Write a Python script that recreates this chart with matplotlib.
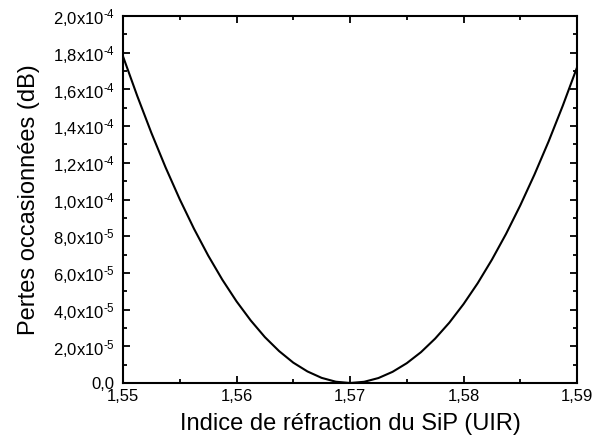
import matplotlib
matplotlib.use("Agg")
import matplotlib.pyplot as plt
from matplotlib.ticker import MultipleLocator, FixedLocator
import numpy as np

plt.rcParams['font.family'] = ['Liberation Sans', 'DejaVu Sans']
plt.rcParams['mathtext.fontset'] = 'custom'
plt.rcParams['mathtext.rm'] = 'Liberation Sans'
plt.rcParams['mathtext.it'] = 'Liberation Sans'

# refractive index of SiP and induced losses (dB)
indice = [1.55, 1.55125, 1.5525, 1.55375, 1.555, 1.55625, 1.5575, 1.55875,
          1.56, 1.56125, 1.5625, 1.56375, 1.565, 1.56625, 1.5675, 1.56875,
          1.57, 1.57125, 1.5725, 1.57375, 1.575, 1.57625, 1.5775, 1.57875,
          1.58, 1.58125, 1.5825, 1.58375, 1.585, 1.58625, 1.5875, 1.58875, 1.59]
pertes = [1.780e-4, 1.565e-4, 1.363e-4, 1.175e-4, 1.001e-4, 8.41e-5, 6.95e-5, 5.63e-5,
          4.45e-5, 3.41e-5, 2.50e-5, 1.74e-5, 1.11e-5, 6.3e-6, 2.8e-6, 7.0e-7,
          0.0, 6.7e-7, 2.7e-6, 6.1e-6, 1.08e-5, 1.68e-5, 2.42e-5, 3.29e-5,
          4.30e-5, 5.44e-5, 6.72e-5, 8.13e-5, 9.68e-5, 1.136e-4, 1.317e-4, 1.512e-4, 1.720e-4]

x_ticks = [1.55, 1.56, 1.57, 1.58, 1.59]
x_labels = ["1,55", "1,56", "1,57", "1,58", "1,59"]
y_ticks = [0, 2e-5, 4e-5, 6e-5, 8e-5, 1e-4, 1.2e-4, 1.4e-4, 1.6e-4, 1.8e-4, 2e-4]
y_labels = ["0,0"] + [m + r"x10$^{\text{-}" + e + "}$" for m, e in
                      [("2,0", "5"), ("4,0", "5"), ("6,0", "5"), ("8,0", "5"),
                       ("1,0", "4"), ("1,2", "4"), ("1,4", "4"), ("1,6", "4"),
                       ("1,8", "4"), ("2,0", "4")]]

fig = plt.figure(figsize=(5.92, 4.45), dpi=100)
ax = fig.add_axes([0.2078, 0.1393, 0.7669, 0.8247])

ax.plot(indice, pertes, color='black', linewidth=1.5)

ax.set_xlim(1.55, 1.59)
ax.set_ylim(0, 2e-4)
ax.xaxis.set_major_locator(FixedLocator(x_ticks))
ax.set_xticklabels(x_labels)
ax.yaxis.set_major_locator(FixedLocator(y_ticks))
ax.set_yticklabels(y_labels)
ax.xaxis.set_minor_locator(MultipleLocator(0.005))
ax.yaxis.set_minor_locator(MultipleLocator(1e-5))

ax.tick_params(which='both', direction='in', top=True, right=True, width=1.3,
               labelsize=12, colors='black')
ax.tick_params(which='major', length=5)
ax.tick_params(which='minor', length=3)
ax.tick_params(axis='x', which='major', pad=4)
ax.tick_params(axis='y', which='major', pad=6)
for s in ax.spines.values():
    s.set_linewidth(1.5)

ax.set_xlabel("Indice de réfraction du SiP (UIR)", fontsize=17, labelpad=7)
ax.set_ylabel("Pertes occasionnées (dB)", fontsize=17, labelpad=9)

fig.savefig("out.png", dpi=100)
